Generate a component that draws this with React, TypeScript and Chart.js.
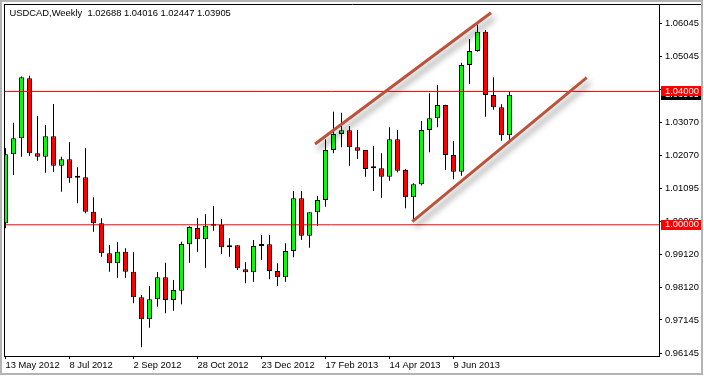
import React, { useEffect, useRef } from "react";
import { Chart, registerables } from "chart.js";

Chart.register(...registerables);

const symbolTitle = "USDCAD,Weekly";

// Weekly candles, 13 May 2012 onwards (index 0 = week of 13 May 2012)
const opens = [
  1.00045, 1.02115, 1.02595, 1.04395, 1.02145, 1.02043, 1.02655, 1.01773, 1.01965, 1.0141,
  1.01425, 1.00393, 1.00045, 0.99145, 0.98845, 0.99193, 0.98593, 0.97824, 0.97164, 0.97764,
  0.98425, 0.97743, 0.98022, 0.99414, 0.99904, 0.99565, 0.99973, 1.00003, 0.99325, 0.99385,
  0.98664, 0.98574, 0.99363, 0.99414, 0.98613, 0.98425, 0.99213, 1.00795, 0.99673, 1.00375,
  1.00744, 1.02244, 1.02724, 1.02835, 1.02325, 1.02244, 1.01695, 1.01695, 1.01443, 1.02565,
  1.01644, 1.00825, 1.01214, 1.02844, 1.03195, 1.03594, 1.02094, 1.01593, 1.04794, 1.05214,
  1.05793, 1.03894, 1.03525, 1.02688,
];
const highs = [
  1.02295, 1.03063, 1.0445, 1.04473, 1.03264, 1.02994, 1.03624, 1.02043, 1.02475, 1.01725,
  1.02295, 1.00825, 1.00195, 0.99393, 0.99475, 0.99295, 0.99175, 0.97893, 0.98163, 0.98583,
  0.98862, 0.98343, 0.99493, 0.99954, 1.00195, 1.00315, 1.00564, 1.00174, 0.99595, 0.9939,
  0.98874, 0.99543, 0.99693, 0.99693, 0.98845, 0.99445, 1.01014, 1.01014, 1.00375, 1.00864,
  1.02565, 1.03393, 1.03363, 1.02964, 1.02844, 1.02244, 1.02364, 1.02145, 1.02925, 1.02844,
  1.01674, 1.01244, 1.03114, 1.03945, 1.04194, 1.036, 1.02514, 1.04863, 1.05574, 1.06015,
  1.05844, 1.04425, 1.03615, 1.04016,
];
const lows = [
  0.99895, 1.01495, 1.02045, 1.02073, 1.01923, 1.01563, 1.01593, 1.00993, 1.01263, 1.00645,
  1.00345, 0.99793, 0.99043, 0.98593, 0.98413, 0.98413, 0.97644, 0.96325, 0.96913, 0.97542,
  0.97345, 0.97423, 0.97614, 0.98862, 0.99193, 0.98712, 0.99823, 0.99123, 0.99043, 0.98644,
  0.98245, 0.98293, 0.98943, 0.98364, 0.98163, 0.98293, 0.99025, 0.99543, 0.99313, 0.99973,
  1.00543, 1.02145, 1.02325, 1.01773, 1.01974, 1.01443, 1.01014, 1.00813, 1.01323, 1.01575,
  1.00495, 1.00143, 1.0118, 1.02175, 1.02925, 1.01644, 1.01365, 1.01473, 1.04224, 1.05193,
  1.03243, 1.0345, 1.02523, 1.02447,
];
const closes = [
  1.02115, 1.02595, 1.04425, 1.02145, 1.02043, 1.02655, 1.01773, 1.01965, 1.01395, 1.0141,
  1.00393, 1.00045, 0.99145, 0.98845, 0.99193, 0.98593, 0.97824, 0.97164, 0.97764, 0.98425,
  0.97743, 0.98043, 0.99423, 0.99934, 0.99565, 0.99973, 1.00003, 0.99325, 0.99385, 0.98694,
  0.98574, 0.99363, 0.99414, 0.98613, 0.98425, 0.99213, 1.00795, 0.99673, 1.00375, 1.00744,
  1.02244, 1.02724, 1.02835, 1.02325, 1.02223, 1.01674, 1.01695, 1.01443, 1.02565, 1.01623,
  1.00825, 1.01214, 1.02844, 1.03195, 1.03594, 1.02094, 1.01593, 1.04794, 1.05214, 1.05793,
  1.03894, 1.03525, 1.02688, 1.03905,
];

const xTickIndex = [0, 8, 16, 24, 32, 40, 48, 56];
const xTickLabels = [
  "13 May 2012", "8 Jul 2012", "2 Sep 2012", "28 Oct 2012",
  "23 Dec 2012", "17 Feb 2013", "14 Apr 2013", "9 Jun 2013",
];
const yTickValues = [
  1.06045, 1.05045, 1.04045, 1.0307, 1.0207, 1.01095, 1.00095, 0.9912, 0.9812, 0.97145, 0.96145,
];

// horizontal levels
const levelLines = [1.04, 1.0];
// channel trendlines (bar index, price)
const upperTrendX = [38.69, 60.69];
const upperTrendY = [1.02424, 1.06363];
const lowerTrendX = [50.85, 72.65];
const lowerTrendY = [1.00093, 1.04413];

const X_MIN = -0.1875;
const X_MAX = 81.6875;
const Y_MIN = 0.96064;
const Y_MAX = 1.06624;

const FONT_FAMILY = "'Liberation Sans', Arial, sans-serif";
const FONT_SIZE = 9.4;
const BULL = "#00ff00";
const BEAR = "#ff0000";
const LEVEL_COLOR = "#ff0000";
const TREND_COLOR = "#b9533b";

const mtPlugin = {
  id: "mt4",
  beforeDatasetDraw(chart: any, args: any) {
    const ds = chart.data.datasets[args.index];
    if (ds && ds.shadow) {
      const ctx = chart.ctx;
      ctx.save();
      ctx.shadowColor = "rgba(0,0,0,0.45)";
      ctx.shadowBlur = 6;
      ctx.shadowOffsetX = 3;
      ctx.shadowOffsetY = 5;
    }
  },
  afterDatasetDraw(chart: any, args: any) {
    const ds = chart.data.datasets[args.index];
    if (ds && ds.shadow) chart.ctx.restore();
  },
  afterDraw(chart: any) {
    const ctx = chart.ctx;
    const { left, top, right, bottom } = chart.chartArea;
    const ys = chart.scales.y;
    const last = closes.length - 1;
    ctx.save();
    ctx.strokeStyle = "#000";
    ctx.lineWidth = 1;
    ctx.beginPath();
    ctx.moveTo(left + 0.5, top);
    ctx.lineTo(left + 0.5, bottom + 0.5);
    ctx.moveTo(left, top + 0.5);
    ctx.lineTo(701, top + 0.5);
    ctx.stroke();

    ctx.font = `${FONT_SIZE}px ${FONT_FAMILY}`;
    ctx.textBaseline = "middle";
    ctx.textAlign = "left";
    ctx.fillStyle = "#000";
    const title = `${symbolTitle}  ${opens[last].toFixed(5)} ${highs[last].toFixed(5)} ${lows[last].toFixed(5)} ${closes[last].toFixed(5)}`;
    ctx.fillText(title, 9.5, 13);

    const drawLabel = (v: number, bg: string) => {
      const py = ys.getPixelForValue(v);
      ctx.fillStyle = bg;
      ctx.fillRect(right + 2, Math.round(py) - 5, 41, 10);
      ctx.fillStyle = "#fff";
      ctx.fillText(v.toFixed(5), right + 6, py);
    };
    drawLabel(closes[last], "#000");
    levelLines.forEach((v) => drawLabel(v, LEVEL_COLOR));

    ctx.strokeStyle = "#b4b4b4";
    ctx.lineWidth = 2;
    ctx.strokeRect(1, 1, 701, 373);
    ctx.restore();
  },
};

export default function App() {
  const ref = useRef<HTMLCanvasElement>(null);
  useEffect(() => {
    if (!ref.current) return;
    const idx = closes.map((_, i) => i);
    const font = { family: FONT_FAMILY, size: FONT_SIZE };
    const chart = new Chart(ref.current, {
      type: "bar",
      data: {
        datasets: [
          {
            type: "line",
            label: "upper",
            shadow: true,
            data: upperTrendX.map((x, i) => ({ x, y: upperTrendY[i] })),
            borderColor: TREND_COLOR,
            borderWidth: 3,
            borderCapStyle: "butt",
            pointRadius: 0,
            order: 0,
          } as any,
          {
            type: "line",
            label: "lower",
            shadow: true,
            data: lowerTrendX.map((x, i) => ({ x, y: lowerTrendY[i] })),
            borderColor: TREND_COLOR,
            borderWidth: 3,
            borderCapStyle: "butt",
            pointRadius: 0,
            order: 0,
          } as any,
          ...levelLines.map((lv) => ({
            type: "line",
            label: "level " + lv,
            data: [{ x: X_MIN, y: lv }, { x: X_MAX, y: lv }],
            borderColor: LEVEL_COLOR,
            borderWidth: 1,
            pointRadius: 0,
            order: 1,
          })) as any,
          {
            type: "bar",
            label: "bodies",
            data: idx.map((i) => ({ x: i, y: [opens[i], closes[i]] })),
            backgroundColor: idx.map((i) => (closes[i] >= opens[i] ? BULL : BEAR)),
            borderColor: "#000",
            borderWidth: 1,
            borderSkipped: false,
            barThickness: 5,
            minBarLength: 2,
            grouped: false,
            inflateAmount: 0,
            order: 2,
          } as any,
          {
            type: "bar",
            label: "wicks",
            data: idx.map((i) => ({ x: i, y: [lows[i], highs[i]] })),
            backgroundColor: "#000",
            borderWidth: 0,
            barThickness: 1,
            grouped: false,
            inflateAmount: 0,
            order: 3,
          } as any,
        ],
      },
      options: {
        animation: false,
        responsive: false,
        devicePixelRatio: 1,
        events: [],
        layout: { padding: { left: 4, top: 4, right: 0, bottom: 0 } },
        plugins: {
          legend: { display: false },
          title: { display: false },
          tooltip: { enabled: false },
        },
        scales: {
          x: {
            type: "linear",
            position: "bottom",
            offset: false,
            min: X_MIN,
            max: X_MAX,
            afterFit: (s: any) => {
              s.height = 20;
              s.paddingLeft = 0;
              s.paddingRight = 0;
            },
            afterBuildTicks: (s: any) => {
              s.ticks = xTickIndex.map((v) => ({ value: v }));
            },
            ticks: {
              autoSkip: false,
              maxRotation: 0,
              minRotation: 0,
              align: "start",
              padding: 1,
              color: "#000",
              font,
              callback: (v: any) => {
                const k = xTickIndex.indexOf(Number(v));
                return k >= 0 ? xTickLabels[k] : "";
              },
            },
            grid: { offset: false, drawOnChartArea: false, drawTicks: true, tickLength: 3, color: "#000", tickColor: "#000" },
            border: { display: true, color: "#000", width: 1 },
          },
          y: {
            type: "linear",
            position: "right",
            offset: false,
            min: Y_MIN,
            max: Y_MAX,
            afterFit: (s: any) => {
              s.width = 45;
              s.paddingTop = 0;
              s.paddingBottom = 0;
            },
            afterBuildTicks: (s: any) => {
              s.ticks = yTickValues.map((v) => ({ value: v }));
            },
            ticks: {
              autoSkip: false,
              padding: 3,
              color: "#000",
              font,
              callback: (v: any) => Number(v).toFixed(5),
            },
            grid: { offset: false, drawOnChartArea: false, drawTicks: true, tickLength: 3, color: "#000", tickColor: "#000" },
            border: { display: true, color: "#000", width: 1 },
          },
        },
      } as any,
      plugins: [mtPlugin],
    });
    return () => chart.destroy();
  }, []);

  return (
    <div style={{ position: "fixed", left: 0, top: 0, width: 704, height: 376, background: "#fff" }}>
      <canvas ref={ref} width={704} height={376} style={{ display: "block", width: 704, height: 376 }} />
    </div>
  );
}
